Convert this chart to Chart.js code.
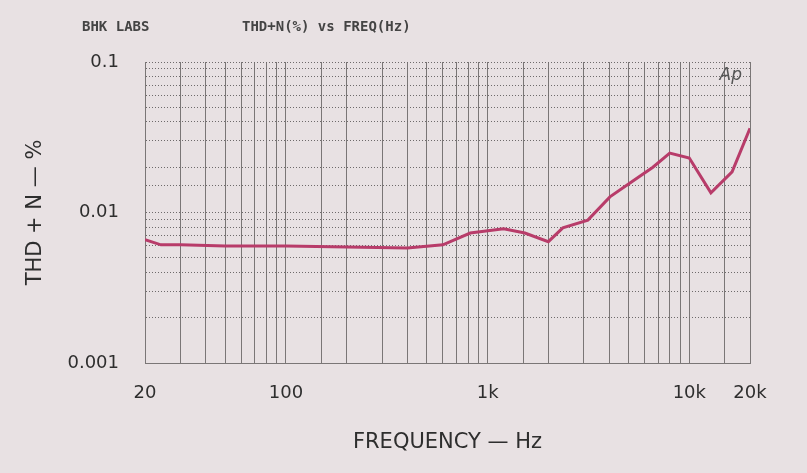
<!DOCTYPE html>
<html>
<head>
<meta charset="utf-8">
<script src="https://cdn.jsdelivr.net/npm/chart.js@4"></script>
<style>
    body { margin: 0; background: #e8e1e3; }
    #wrap { width: 807px; height: 473px; }
</style>
</head>
<body>
<div id="wrap"><canvas id="thdChart"></canvas></div>
<script>
// Values
const freqHz = [20, 24, 30, 50, 100, 200, 400, 600, 820, 1200, 1530, 2000, 2360, 3140, 4040, 5080, 6600, 8000, 10000, 12800, 16300, 20000];
const thdPercent = [0.0066, 0.0061, 0.0061, 0.0060, 0.0060, 0.0059, 0.0058, 0.0061, 0.0073, 0.0078, 0.0073, 0.0064, 0.0079, 0.0089, 0.0127, 0.0157, 0.0200, 0.0248, 0.0230, 0.0135, 0.0186, 0.0363];
const xTickLabels = { 20: '20', 100: '100', 1000: '1k', 10000: '10k', 20000: '20k' };
const yTickLabels = { 0.001: '0.001', 0.01: '0.01', 0.1: '0.1' };

const labelFont = { family: "'DejaVu Sans', sans-serif", size: 18 };
const titleFont = { family: "'DejaVu Sans', sans-serif", size: 21 };

function findLabel(table, v) {
    for (const k in table) {
        if (Math.abs(v / Number(k) - 1) < 1e-6) return table[k];
    }
    return '';
}

// Background, header texts and the "Ap" mark
const headerPlugin = {
    id: 'header',
    beforeDraw(chart) {
        const ctx = chart.ctx;
        ctx.save();
        ctx.fillStyle = '#e8e1e3';
        ctx.fillRect(0, 0, chart.width, chart.height);
        ctx.restore();
    },
    afterDraw(chart) {
        const ctx = chart.ctx;
        const area = chart.chartArea;
        ctx.save();
        ctx.fillStyle = '#444';
        ctx.font = "bold 14px 'DejaVu Sans Mono', monospace";
        ctx.textBaseline = 'middle';
        ctx.fillText('BHK LABS', 82, 27);
        ctx.fillText('THD+N(%) vs FREQ(Hz)', 242, 27);
        ctx.font = "italic 17px 'DejaVu Sans', sans-serif";
        ctx.fillStyle = '#555';
        ctx.textAlign = 'right';
        ctx.fillText('Ap', area.right - 8, area.top + 14);
        ctx.restore();
    }
};

const ctx = document.getElementById('thdChart').getContext('2d');
new Chart(ctx, {
    type: 'line',
    data: {
        datasets: [{
            data: freqHz.map((f, i) => ({ x: f, y: thdPercent[i] })),
            borderColor: '#b83c6a',
            borderWidth: 3,
            pointRadius: 0,
            tension: 0,
            fill: false
        }]
    },
    options: {
        responsive: true,
        maintainAspectRatio: false,
        animation: false,
        layout: { padding: { left: 0, right: 57, top: 62, bottom: 0 } },
        plugins: {
            legend: { display: false },
            tooltip: { enabled: false }
        },
        scales: {
            x: {
                type: 'logarithmic',
                min: 20,
                max: 20000,
                afterFit: (scale) => { scale.height = 110; },
                grid: {
                    color: '#7a7676',
                    lineWidth: 1,
                    drawTicks: false
                },
                border: { display: true, color: '#7a7676' },
                ticks: {
                    autoSkip: false,
                    maxRotation: 0,
                    padding: 20,
                    color: '#2e2e2e',
                    font: labelFont,
                    callback: (v) => findLabel(xTickLabels, v)
                },
                title: {
                    display: true,
                    text: 'FREQUENCY — Hz',
                    color: '#2e2e2e',
                    font: titleFont,
                    padding: { top: 0, bottom: 18 }
                }
            },
            y: {
                type: 'logarithmic',
                min: 0.001,
                max: 0.1,
                afterFit: (scale) => { scale.width = 145; },
                grid: {
                    color: '#6e6a6b',
                    lineWidth: 1,
                    drawTicks: false
                },
                border: { display: true, color: '#7a7676', dash: [1, 2] },
                ticks: {
                    autoSkip: false,
                    padding: 26,
                    color: '#2e2e2e',
                    font: labelFont,
                    callback: (v) => findLabel(yTickLabels, v)
                },
                title: {
                    display: true,
                    text: 'THD + N — %',
                    color: '#2e2e2e',
                    font: titleFont,
                    padding: { top: 23, bottom: 0 }
                }
            }
        }
    },
    plugins: [headerPlugin]
});
</script>
</body>
</html>
